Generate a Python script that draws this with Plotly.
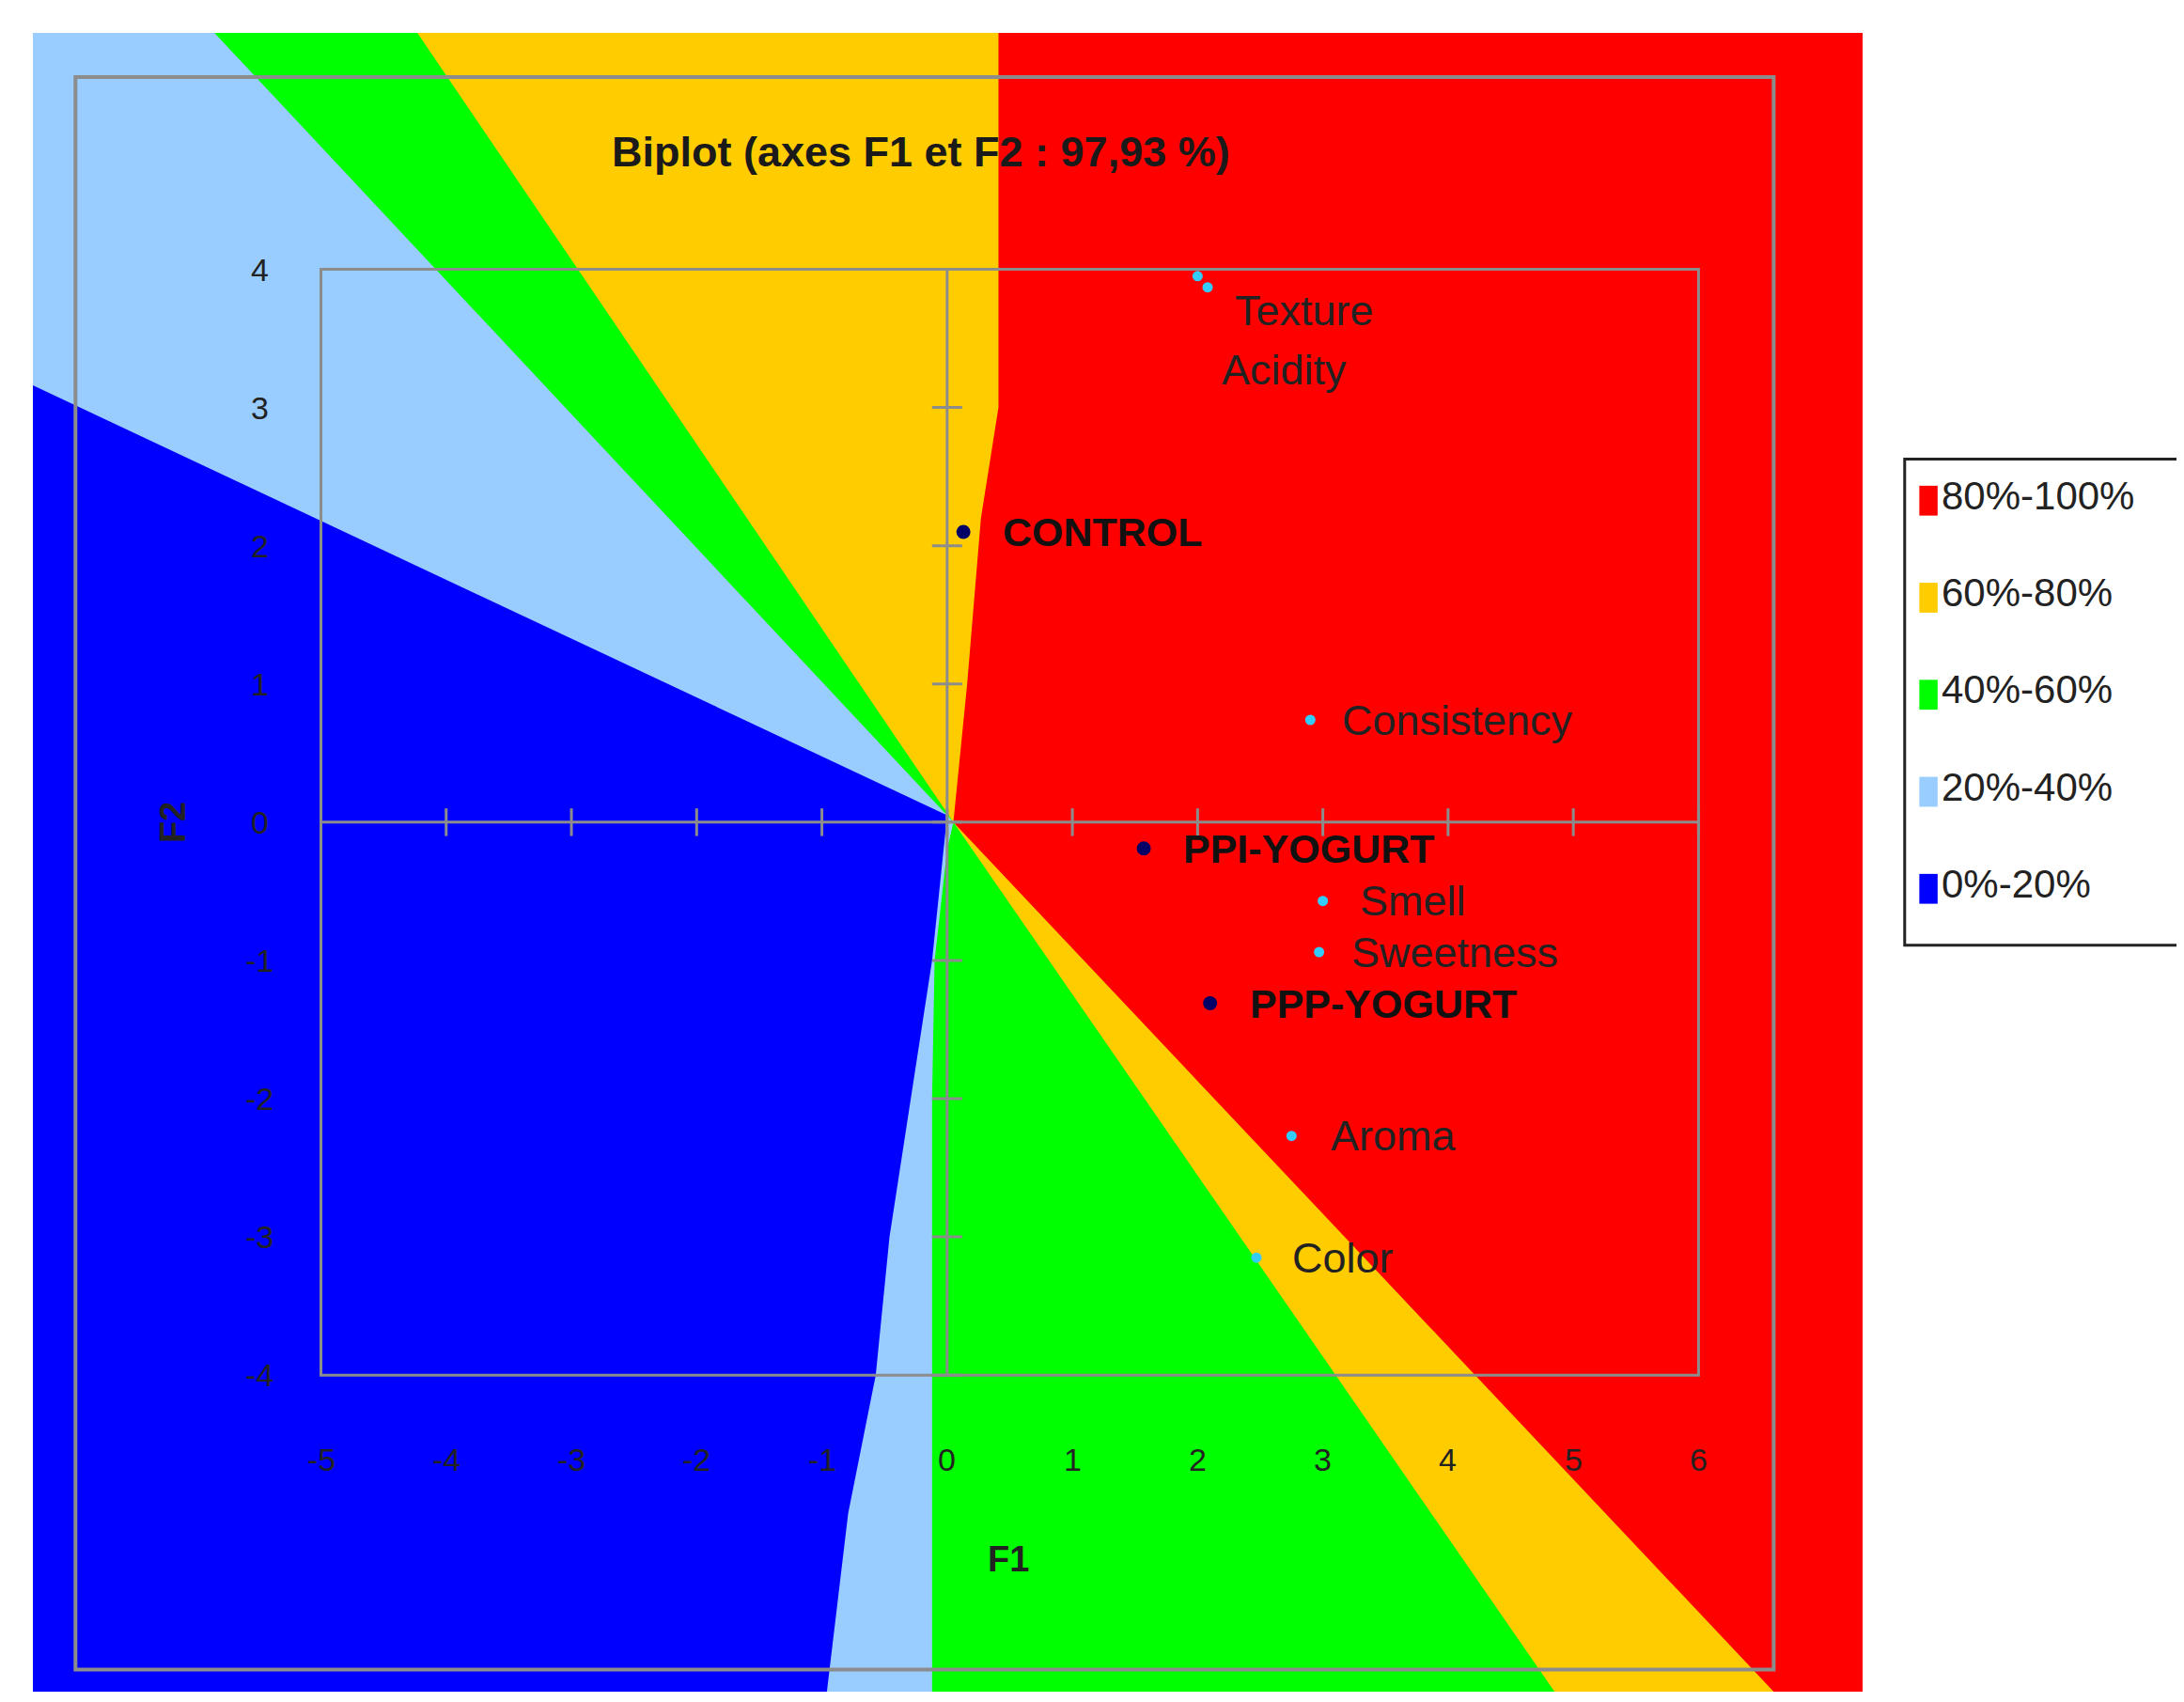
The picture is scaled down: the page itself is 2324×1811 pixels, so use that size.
import plotly.graph_objects as go

# ---- data ----
obs_names = ["CONTROL", "PPI-YOGURT", "PPP-YOGURT"]
obs_x = [0.13, 1.57, 2.1]
obs_y = [2.1, -0.19, -1.31]
var_names = ["Texture", "Acidity", "Consistency", "Smell", "Sweetness", "Aroma", "Color"]
var_x = [2.0, 2.08, 2.9, 3.0, 2.97, 2.75, 2.47]
var_y = [3.95, 3.87, 0.74, -0.57, -0.94, -2.27, -3.15]
x_ticks = [-5, -4, -3, -2, -1, 0, 1, 2, 3, 4, 5, 6]
y_ticks = [-4, -3, -2, -1, 0, 1, 2, 3, 4]
legend_labels = ["80%-100%", "60%-80%", "40%-60%", "20%-40%", "0%-20%"]
legend_colors = ["#ff0000", "#ffcc00", "#00ff00", "#99ccff", "#0000ff"]

xL, xR, yT, yB = -7.3, 7.31, 5.71, -6.29

regions = [
    ("#ff0000", [xL, xR, xR, xL], [yT, yT, yB, yB]),
    ("#ffcc00", [xL, 0.41, 0.41, 0.27, 0.16, 0.05, 6.6, xL],
                [yT, yT, 3.0, 2.2, 1.0, 0.0, yB, yB]),
    ("#00ff00", [xL, -4.23, 0.05, 4.85, xL], [yT, yT, 0.0, yB, yB]),
    ("#99ccff", [xL, -5.85, 0.05, 0.0, -0.1, -0.12, -0.12, xL],
                [yT, yT, 0.0, -0.2, -1.0, -2.0, yB, yB]),
    ("#0000ff", [xL, 0.0, -0.12, -0.29, -0.46, -0.57, -0.79, -0.96, xL],
                [3.16, 0.05, -1.0, -2.0, -3.0, -4.0, -5.0, yB, yB]),
]

fig = go.Figure()
for col, xs, ys in regions:
    fig.add_trace(go.Scatter(x=xs, y=ys, fill="toself", fillcolor=col, mode="none",
                             showlegend=False, hoverinfo="skip"))

grey = "#8c8c8c"
shapes = [
    dict(type="rect", x0=-6.96, x1=6.6, y0=-6.13, y1=5.39, line=dict(color=grey, width=4)),
    dict(type="rect", x0=-5, x1=6, y0=-4, y1=4, line=dict(color=grey, width=3)),
    dict(type="line", x0=-5, x1=6, y0=0, y1=0, line=dict(color=grey, width=3)),
    dict(type="line", x0=0, x1=0, y0=-4, y1=4, line=dict(color=grey, width=3)),
]
for t in x_ticks:
    shapes.append(dict(type="line", x0=t, x1=t, y0=-0.1, y1=0.1, line=dict(color=grey, width=3)))
for t in y_ticks:
    shapes.append(dict(type="line", x0=-0.12, x1=0.12, y0=t, y1=t, line=dict(color=grey, width=3)))

fig.add_trace(go.Scatter(x=var_x, y=var_y, mode="markers", marker=dict(color="#33ccff", size=11),
                         showlegend=False, hoverinfo="skip"))
fig.add_trace(go.Scatter(x=obs_x, y=obs_y, mode="markers", marker=dict(color="#000066", size=15),
                         showlegend=False, hoverinfo="skip"))

ann = []
fnt = "Liberation Sans Narrow, Liberation Sans, Arial"
ann.append(dict(x=-0.21, y=4.85, text="<b>Biplot (axes F1 et F2 : 97,93 %)</b>", showarrow=False,
                font=dict(size=45, color="#1a1a1a", family=fnt)))
for t in x_ticks:
    ann.append(dict(x=t, y=-4.61, text=str(t), showarrow=False, font=dict(size=34, color="#222", family=fnt)))
for t in y_ticks:
    ann.append(dict(x=-5.49, y=t, text=str(t), showarrow=False, font=dict(size=34, color="#222", family=fnt)))
ann.append(dict(x=0.49, y=-5.33, text="<b>F1</b>", showarrow=False, font=dict(size=38, color="#222", family=fnt)))
ann.append(dict(x=-6.18, y=0, text="<b>F2</b>", textangle=-90, showarrow=False, font=dict(size=38, color="#222", family=fnt)))
var_off = {"Texture": (0.28, -0.25), "Acidity": (0.1, -0.6), "Consistency": (0.24, 0),
           "Smell": (0.28, 0), "Sweetness": (0.24, 0), "Aroma": (0.3, 0), "Color": (0.27, 0)}
for n, x, y in zip(var_names, var_x, var_y):
    dx, dy = var_off[n]
    ann.append(dict(x=x + dx, y=y + dy, text=n, xanchor="left", showarrow=False,
                    font=dict(size=45, color="#222", family=fnt)))
for n, x, y in zip(obs_names, obs_x, obs_y):
    ann.append(dict(x=x + 0.3, y=y, text="<b>" + n + "</b>", xanchor="left", showarrow=False,
                    font=dict(size=43, color="#111", family=fnt)))

# legend box (paper coords)
lx0, lx1, ly1, ly0 = 1.023, 1.175, 0.743, 0.45
shapes.append(dict(type="rect", xref="paper", yref="paper", x0=lx0, x1=lx1, y0=ly0, y1=ly1,
                   line=dict(color="#222", width=3), fillcolor="white"))
for i, (lab, col) in enumerate(zip(legend_labels, legend_colors)):
    yc = ly1 - 0.025 - i * 0.0585
    shapes.append(dict(type="rect", xref="paper", yref="paper", x0=lx0 + 0.008, x1=lx0 + 0.018,
                       y0=yc - 0.009, y1=yc + 0.009, line=dict(width=0), fillcolor=col))
    ann.append(dict(xref="paper", yref="paper", x=lx0 + 0.019, y=yc + 0.003, yanchor="middle",
                    text=lab, xanchor="left",
                    showarrow=False, font=dict(size=42, color="#222", family=fnt)))

fig.update_layout(
    width=2324, height=1811, margin=dict(l=27, r=350, t=27, b=19),
    plot_bgcolor="white", paper_bgcolor="white", shapes=shapes, annotations=ann,
    xaxis=dict(range=[xL, xR], visible=False, fixedrange=True),
    yaxis=dict(range=[yB, yT], visible=False, fixedrange=True),
    showlegend=False,
)
fig.write_html("out.html")
